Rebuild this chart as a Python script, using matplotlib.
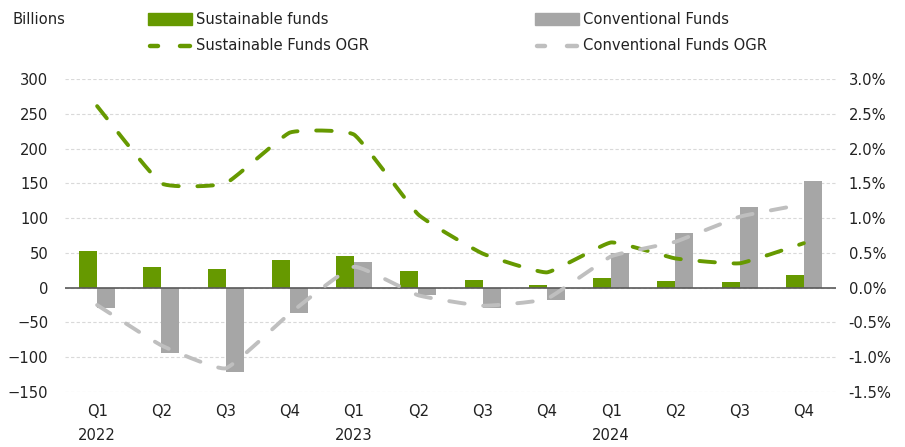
import numpy as np
import matplotlib
matplotlib.use("Agg")
import matplotlib.pyplot as plt
from matplotlib import font_manager as fm
from matplotlib.patches import Rectangle
from matplotlib.lines import Line2D

# pick a narrow font if one is installed
narrow = None
for f in fm.fontManager.ttflist:
    fn = f.fname.split('/')[-1]
    if fn in ('LiberationSansNarrow-Regular.ttf', 'DejaVuSansCondensed.ttf'):
        if narrow is None or fn.startswith('Liberation'):
            narrow = f
if narrow is not None:
    plt.rcParams['font.family'] = [narrow.name, 'DejaVu Sans']
    plt.rcParams['font.stretch'] = narrow.stretch
    FS = 11.8
else:
    plt.rcParams['font.family'] = ['DejaVu Sans']
    FS = 11

# data (billions, and organic growth rate in %)
quarters = ['Q1', 'Q2', 'Q3', 'Q4'] * 3
years = {0: '2022', 4: '2023', 8: '2024'}
sustainable_flows = [52.8, 30.2, 26.9, 39.3, 45.1, 24.0, 11.0, 3.8, 14.4, 10.0, 8.6, 17.8]
conventional_flows = [-29.8, -93.6, -121.9, -36.5, 36.5, -11.0, -29.3, -17.8, 50.4, 78.7, 116.6, 153.0]
sustainable_ogr = [2.61, 1.50, 1.50, 2.23, 2.20, 1.05, 0.49, 0.22, 0.65, 0.42, 0.35, 0.64]
conventional_ogr = [-0.25, -0.83, -1.16, -0.37, 0.30, -0.11, -0.26, -0.16, 0.45, 0.66, 1.02, 1.20]

GREEN = '#669900'
GRAY_BAR = '#A6A6A6'
GRAY_LINE = '#BFBFBF'
TXT = '#222222'


def smooth(xs, ys, k=16.0, n=30):
    # bezier curve through the points, low tension (like a smoothed Excel line)
    p = np.column_stack([xs, ys]).astype(float)
    p = np.vstack([p[0], p, p[-1]])
    out = []
    t = np.linspace(0, 1, n, endpoint=False)[:, None]
    for i in range(1, len(p) - 2):
        p0, p1, p2, p3 = p[i - 1], p[i], p[i + 1], p[i + 2]
        c1 = p1 + (p2 - p0) / k
        c2 = p2 - (p3 - p1) / k
        seg = ((1 - t) ** 3) * p1 + 3 * ((1 - t) ** 2) * t * c1 + 3 * (1 - t) * t ** 2 * c2 + t ** 3 * p2
        out.append(seg)
    out.append(p[-2][None, :])
    out = np.vstack(out)
    return out[:, 0], out[:, 1]


W, H = 905, 447
fig = plt.figure(figsize=(W / 100, H / 100), dpi=100)
ax = fig.add_axes([65 / W, (H - 392) / H, (836 - 65) / W, (392 - 79) / H])

x = np.arange(len(quarters))
bw = 0.28
ax.bar(x - bw / 2, sustainable_flows, bw, color=GREEN, zorder=3)
ax.bar(x + bw / 2, conventional_flows, bw, color=GRAY_BAR, zorder=3)

ax.set_xlim(-0.5, len(quarters) - 0.5)
ax.set_ylim(-150, 300)
ax.set_yticks(np.arange(-150, 301, 50))
ax.grid(axis='y', color='#D9D9D9', linestyle=(0, (3, 2)), linewidth=0.8, zorder=0)
ax.axhline(0, color='#595959', linewidth=1.2, zorder=4)
for s in ax.spines.values():
    s.set_visible(False)
ax.tick_params(length=0, labelsize=FS, colors=TXT, pad=12)
ax.set_xticks(x)
ax.set_xticklabels(quarters)
ax.tick_params(axis='x', pad=9)
for i, yr in years.items():
    ax.text(i, -0.115, yr, transform=ax.get_xaxis_transform(), ha='center', va='top',
            fontsize=FS, color=TXT)

ax2 = ax.twinx()
ax2.set_ylim(-1.5, 3.0)
ax2.set_yticks(np.arange(-1.5, 3.01, 0.5))
ax2.set_yticklabels([f'{v:.1f}%' for v in np.arange(-1.5, 3.01, 0.5)])
for s in ax2.spines.values():
    s.set_visible(False)
ax2.tick_params(length=0, labelsize=FS, colors=TXT, pad=9)

dash = (0, (4.0, 4.8))
sx, sy = smooth(x, sustainable_ogr)
ax2.plot(sx, sy, color=GREEN, lw=2.8, linestyle=dash, dash_capstyle='round', zorder=5)
cx, cy = smooth(x, conventional_ogr)
ax2.plot(cx, cy, color=GRAY_LINE, lw=2.8, linestyle=dash, dash_capstyle='round', zorder=5)

# header and legend
fig.text(12 / W, 1 - 19 / H, 'Billions', fontsize=FS, color=TXT, va='center')
legend_items = [
    (148, 19, 'bar', GREEN, 'Sustainable funds'),
    (535, 19, 'bar', GRAY_BAR, 'Conventional Funds'),
    (148, 46, 'line', GREEN, 'Sustainable Funds OGR'),
    (535, 46, 'line', GRAY_LINE, 'Conventional Funds OGR'),
]
for lx, ly, kind, col, label in legend_items:
    yf = 1 - ly / H
    if kind == 'bar':
        fig.patches.append(Rectangle((lx / W, yf - 6 / H), 44 / W, 12 / H, color=col,
                                     transform=fig.transFigure))
    else:
        for a, b in [(150, 158), (180, 190)]:
            fig.lines.append(Line2D([(a + lx - 148) / W, (b + lx - 148) / W], [yf, yf], color=col,
                                    lw=3.2, solid_capstyle='round', transform=fig.transFigure))
    fig.text((lx + 48) / W, yf, label, fontsize=FS, color=TXT, va='center')

fig.savefig('out.png', dpi=100)
